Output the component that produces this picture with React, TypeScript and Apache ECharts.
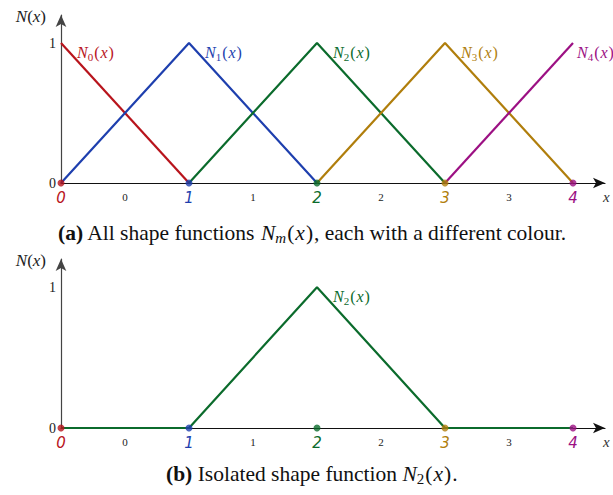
import React, { useEffect, useRef } from 'react';
import * as echarts from 'echarts';

const nodes = [0, 1, 2, 3, 4];
const nodeLabels = ['0', '1', '2', '3', '4'];
const elementPositions = [0.5, 1.5, 2.5, 3.5];
const elementLabels = ['0', '1', '2', '3'];
const colours = ['#b8141c', '#1e3fae', '#0b6b2c', '#b07e0c', '#9c1083'];
const shapeX = [[0, 1], [0, 1, 2], [1, 2, 3], [2, 3, 4], [3, 4]];
const shapeY = [[1, 0], [0, 1, 0], [0, 1, 0], [0, 1, 0], [0, 1]];
const isolatedIndex = 2;
const isolatedX = [0, 1, 2, 3, 4];
const isolatedY = [0, 0, 1, 0, 0];
const yTickValues = [0, 1];

const SERIF = 'Liberation Serif';

const nodeRich: any = {};
colours.forEach((c, i) => {
  nodeRich['n' + i] = { color: c, fontFamily: 'DejaVu Sans', fontStyle: 'italic', fontSize: 15 };
});
nodeRich.e = { color: '#222', fontFamily: SERIF, fontSize: 11, padding: [1, 0, 0, 0] };

function xFormatter(v: number) {
  const ni = nodes.indexOf(v);
  if (ni >= 0) return `{n${ni}|${nodeLabels[ni]}}`;
  const ei = elementPositions.indexOf(v);
  if (ei >= 0) return `{e|${elementLabels[ei]}}`;
  return '';
}

function makeAxes(gridIndex: number) {
  const xAxis = {
    type: 'value',
    gridIndex,
    min: 0,
    max: 4.25,
    interval: 0.5,
    axisLine: { show: true, onZero: false, symbol: ['none', 'arrow'], symbolSize: [8, 12], lineStyle: { color: '#111', width: 1.2 } },
    axisTick: { show: false },
    splitLine: { show: false },
    axisLabel: { margin: 7, formatter: xFormatter, rich: nodeRich },
    name: '{i|x}',
    nameLocation: 'end',
    nameGap: -2,
    nameTextStyle: { verticalAlign: 'top', padding: [6, 0, 0, 0], rich: { i: { fontFamily: SERIF, fontStyle: 'italic', fontSize: 15, color: '#333' } } },
  };
  const yAxis = {
    type: 'value',
    gridIndex,
    min: 0,
    max: 1.2,
    interval: 1,
    axisLine: { show: true, onZero: false, symbol: ['none', 'arrow'], symbolSize: [8, 12], lineStyle: { color: '#444', width: 1.2 } },
    axisTick: { show: false },
    splitLine: { show: false },
    axisLabel: {
      margin: 5,
      fontFamily: SERIF,
      fontSize: 14,
      color: '#222',
      formatter: (v: number) => (yTickValues.indexOf(v) >= 0 ? String(v) : ''),
    },
    name: '{i|N}{r|(}{i|x}{r|)}',
    nameLocation: 'end',
    nameGap: -1,
    nameTextStyle: {
      align: 'right',
      verticalAlign: 'middle',
      padding: [0, 15, 0, 0],
      rich: {
        i: { fontFamily: SERIF, fontStyle: 'italic', fontSize: 17, color: '#222' },
        r: { fontFamily: SERIF, fontSize: 17, color: '#222' },
      },
    },
  };
  return { xAxis, yAxis };
}

function shapeLabel(m: number) {
  const last = m === colours.length - 1;
  return {
    show: true,
    position: 'right',
    distance: last ? 4 : 5,
    offset: last ? [0, 9] : [11, 9],
    formatter: `{n|N}{s|${m}}{p|(}{n|x}{p|)}`,
    rich: {
      n: { fontFamily: SERIF, fontStyle: 'italic', fontSize: 16, color: colours[m], lineHeight: 20 },
      s: { fontFamily: SERIF, fontSize: 11, color: colours[m], verticalAlign: 'bottom', lineHeight: 13 },
      p: { fontFamily: SERIF, fontSize: 16, color: colours[m], lineHeight: 20, padding: [0, 1, 0, 1] },
    },
  };
}

function lineSeries(m: number, xs: number[], ys: number[], axisIndex: number) {
  return {
    type: 'line',
    xAxisIndex: axisIndex,
    yAxisIndex: axisIndex,
    symbol: 'circle',
    symbolSize: 0,
    showSymbol: true,
    lineStyle: { color: colours[m], width: 2.2 },
    itemStyle: { color: colours[m] },
    z: 3,
    data: xs.map((x, k) =>
      ys[k] === 1 ? { value: [x, ys[k]], label: shapeLabel(m) } : { value: [x, ys[k]] }
    ),
  };
}

function nodeSeries(axisIndex: number) {
  return {
    type: 'scatter',
    xAxisIndex: axisIndex,
    yAxisIndex: axisIndex,
    symbolSize: 7,
    z: 5,
    data: nodes.map((x, i) => ({ value: [x, 0], itemStyle: { color: colours[i] } })),
  };
}

const CAP = 21.5;
const captionRich = {
  b: { fontFamily: SERIF, fontWeight: 'bold', fontSize: CAP, color: '#111', lineHeight: 25 },
  t: { fontFamily: SERIF, fontWeight: 'normal', fontSize: CAP, color: '#111', lineHeight: 25 },
  i: { fontFamily: SERIF, fontWeight: 'normal', fontStyle: 'italic', fontSize: CAP, color: '#111', lineHeight: 25 },
  p: { fontFamily: SERIF, fontWeight: 'normal', fontSize: CAP, color: '#111', lineHeight: 25, padding: [0, 1, 0, 1] },
  s: { fontFamily: SERIF, fontWeight: 'normal', fontStyle: 'italic', fontSize: 15, color: '#111', verticalAlign: 'bottom', lineHeight: 18 },
  n: { fontFamily: SERIF, fontWeight: 'normal', fontSize: 15, color: '#111', verticalAlign: 'bottom', lineHeight: 18 },
};

export default function App() {
  const ref = useRef<HTMLDivElement>(null);
  useEffect(() => {
    if (!ref.current) return;
    const chart = echarts.init(ref.current, undefined, { renderer: 'svg' });
    const a0 = makeAxes(0);
    const a1 = makeAxes(1);
    const option: any = {
      animation: false,
      backgroundColor: '#fff',
      grid: [
        { left: 61, top: 15, width: 544, height: 168 },
        { left: 61, top: 259, width: 544, height: 169 },
      ],
      xAxis: [a0.xAxis, a1.xAxis],
      yAxis: [a0.yAxis, a1.yAxis],
      title: [
        {
          left: 58,
          top: 220,
          padding: 0,
          text: '{b|(a)}{t| All shape functions }{i|N}{s|m}{p|(}{i|x}{p|)}{t|, each with a different colour.}',
          textStyle: { fontWeight: 'normal', rich: captionRich },
        },
        {
          left: 166,
          top: 461,
          padding: 0,
          text: '{b|(b)}{t| Isolated shape function }{i|N}{n|2}{p|(}{i|x}{p|)}{t|.}',
          textStyle: { fontWeight: 'normal', rich: captionRich },
        },
      ],
      series: [
        ...shapeX.map((xs, m) => lineSeries(m, xs, shapeY[m], 0)),
        nodeSeries(0),
        lineSeries(isolatedIndex, isolatedX, isolatedY, 1),
        nodeSeries(1),
      ],
    };
    chart.setOption(option);
    return () => chart.dispose();
  }, []);
  return <div ref={ref} style={{ position: 'fixed', left: 0, top: 0, width: 613, height: 495 }} />;
}
